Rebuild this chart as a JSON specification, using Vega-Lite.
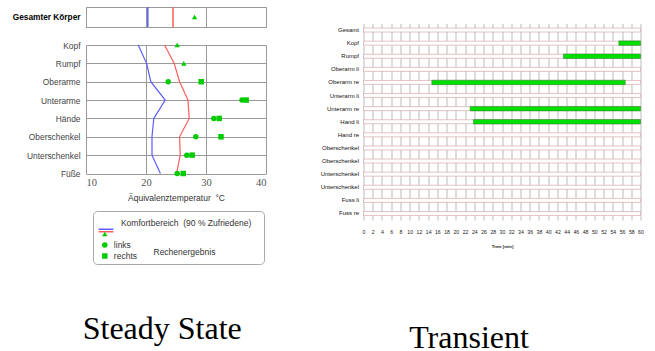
{
  "$schema": "https://vega.github.io/schema/vega-lite/v6.json",
  "padding": {"left": 11, "top": 5, "right": 0, "bottom": 0},
  "background": "white",
  "datasets": {
    "komfort_unten": [
      {"teil": "Kopf", "linie": "Untergrenze", "temp": 18.7},
      {"teil": "Rumpf", "linie": "Untergrenze", "temp": 20.1},
      {"teil": "Oberarme", "linie": "Untergrenze", "temp": 20.8},
      {"teil": "Unterarme", "linie": "Untergrenze", "temp": 23.2},
      {"teil": "Hände", "linie": "Untergrenze", "temp": 21.3},
      {"teil": "Oberschenkel", "linie": "Untergrenze", "temp": 21.0},
      {"teil": "Unterschenkel", "linie": "Untergrenze", "temp": 21.0},
      {"teil": "Füße", "linie": "Untergrenze", "temp": 22.4}
    ],
    "komfort_oben": [
      {"teil": "Kopf", "kurve": "Obergrenze", "temp": 23.1},
      {"teil": "Rumpf", "kurve": "Obergrenze", "temp": 24.7},
      {"teil": "Oberarme", "kurve": "Obergrenze", "temp": 25.6},
      {"teil": "Unterarme", "kurve": "Obergrenze", "temp": 27.0},
      {"teil": "Hände", "kurve": "Obergrenze", "temp": 27.2},
      {"teil": "Oberschenkel", "kurve": "Obergrenze", "temp": 25.6},
      {"teil": "Unterschenkel", "kurve": "Obergrenze", "temp": 25.7},
      {"teil": "Füße", "kurve": "Obergrenze", "temp": 25.1}
    ],
    "ergebnis": [
      {"teil": "Kopf", "seite": "gesamt", "quelle": "Rechenergebnis", "temp": 25.2},
      {"teil": "Rumpf", "seite": "gesamt", "quelle": "Rechenergebnis", "temp": 26.3},
      {"teil": "Oberarme", "seite": "links", "quelle": "Rechenergebnis", "temp": 23.7},
      {"teil": "Oberarme", "seite": "rechts", "quelle": "Rechenergebnis", "temp": 29.2},
      {"teil": "Unterarme", "seite": "links", "quelle": "Rechenergebnis", "temp": 36.0},
      {"teil": "Unterarme", "seite": "rechts", "quelle": "Rechenergebnis", "temp": 36.7},
      {"teil": "Hände", "seite": "links", "quelle": "Rechenergebnis", "temp": 31.3},
      {"teil": "Hände", "seite": "rechts", "quelle": "Rechenergebnis", "temp": 32.2},
      {"teil": "Oberschenkel", "seite": "links", "quelle": "Rechenergebnis", "temp": 28.3},
      {"teil": "Oberschenkel", "seite": "rechts", "quelle": "Rechenergebnis", "temp": 32.5},
      {"teil": "Unterschenkel", "seite": "links", "quelle": "Rechenergebnis", "temp": 26.8},
      {"teil": "Unterschenkel", "seite": "rechts", "quelle": "Rechenergebnis", "temp": 27.7},
      {"teil": "Füße", "seite": "links", "quelle": "Rechenergebnis", "temp": 25.2},
      {"teil": "Füße", "seite": "rechts", "quelle": "Rechenergebnis", "temp": 26.2}
    ],
    "gesamt_komfort": [
      {"grenze": "unten", "temp": 20.3},
      {"grenze": "oben", "temp": 24.5}
    ],
    "gesamt_ergebnis": [
      {"teil": "Gesamter Körper", "temp": 28.1}
    ],
    "zeilen": [
      {"row": "Gesamt", "von": 0, "bis": 60},
      {"row": "Kopf", "von": 0, "bis": 60},
      {"row": "Rumpf", "von": 0, "bis": 60},
      {"row": "Oberarm li", "von": 0, "bis": 60},
      {"row": "Oberarm re", "von": 0, "bis": 60},
      {"row": "Unterarm li", "von": 0, "bis": 60},
      {"row": "Unterarm re", "von": 0, "bis": 60},
      {"row": "Hand li", "von": 0, "bis": 60},
      {"row": "Hand re", "von": 0, "bis": 60},
      {"row": "Oberschenkel li", "von": 0, "bis": 60},
      {"row": "Oberschenkel re", "von": 0, "bis": 60},
      {"row": "Unterschenkel li", "von": 0, "bis": 60},
      {"row": "Unterschenkel re", "von": 0, "bis": 60},
      {"row": "Fuss li", "von": 0, "bis": 60},
      {"row": "Fuss re", "von": 0, "bis": 60}
    ],
    "aktiv": [
      {"row": "Kopf", "von": 55.3, "bis": 60},
      {"row": "Rumpf", "von": 43.3, "bis": 60},
      {"row": "Oberarm re", "von": 14.8, "bis": 56.7},
      {"row": "Unterarm re", "von": 23.1, "bis": 60},
      {"row": "Hand li", "von": 23.8, "bis": 60}
    ],
    "leer": []
  },
  "hconcat": [
    {
      "title": {"text": "Steady State", "orient": "bottom", "anchor": "start", "dx": 71, "offset": 112, "font": "Liberation Serif", "fontSize": 32, "fontWeight": "normal", "color": "#000000"},
      "spacing": 12,
      "vconcat": [
        {
          "width": 180,
          "height": 20,
          "view": {"stroke": "#999999", "strokeWidth": 1},
          "data": {"name": "gesamt_komfort"},
          "layer": [
            {
              "transform": [{"filter": "datum.grenze === 'unten'"}],
              "mark": {"type": "rule", "strokeWidth": 1.5, "color": "#5c5cff"},
              "encoding": {
                "x": {"field": "temp", "type": "quantitative", "scale": {"domain": [10, 40], "nice": false},
                      "axis": {"grid": true, "gridColor": "#999999", "values": [10, 15, 20, 25, 30, 35, 40], "labels": false, "ticks": false, "domain": false, "title": null}}
              }
            },
            {
              "transform": [{"filter": "datum.grenze === 'oben'"}],
              "mark": {"type": "rule", "strokeWidth": 1.5, "color": "#ff5c5c"},
              "encoding": {
                "x": {"field": "temp", "type": "quantitative"}
              }
            },
            {
              "data": {"name": "gesamt_ergebnis"},
              "mark": {"type": "point", "filled": true, "shape": "triangle-up", "size": 30, "color": "#00cc00", "opacity": 1},
              "encoding": {
                "x": {"field": "temp", "type": "quantitative"},
                "y": {"field": "teil", "type": "nominal",
                      "axis": {"title": null, "ticks": false, "domain": false, "grid": false, "labelFontWeight": "bold", "labelFontSize": 8.3, "labelColor": "#000000", "labelPadding": 6}}
              }
            }
          ]
        },
        {
          "width": 180,
          "height": 128.5,
          "layer": [
            {
              "data": {"name": "komfort_unten"},
              "mark": {"type": "line", "strokeWidth": 1.2},
              "encoding": {
                "x": {"field": "temp", "type": "quantitative", "scale": {"domain": [10, 40], "nice": false},
                      "axis": {"grid": true, "gridColor": "#999999", "values": [10, 15, 20, 25, 30, 35, 40], "ticks": false, "domain": false, "labelOverlap": false,
                               "labelFont": "Liberation Serif", "labelFontSize": 10.5, "labelColor": "#555555", "labelPadding": 3.5,
                               "title": "Äquivalenztemperatur\u00a0 °C", "titleFontWeight": "normal", "titleFontSize": 8.5, "titleColor": "#333333", "titlePadding": 5.5}},
                "y": {"field": "teil", "type": "nominal", "sort": ["Kopf", "Rumpf", "Oberarme", "Unterarme", "Hände", "Oberschenkel", "Unterschenkel", "Füße"],
                      "scale": {"type": "point", "padding": 0},
                      "axis": {"title": null, "ticks": false, "domain": false, "grid": true, "gridColor": "#999999", "labelFontSize": 8.4, "labelColor": "#444444", "labelPadding": 6}},
                "stroke": {"field": "linie", "type": "nominal", "scale": {"domain": ["Untergrenze"], "range": ["#5c5cff"]},
                           "legend": {"orient": "none", "legendX": 15, "legendY": 218.5, "title": null, "labelExpr": "''",
                                      "symbolType": "M-2.7,-0.45H2.7", "symbolSize": 30, "symbolStrokeWidth": 1.5, "padding": 0, "symbolOffset": 0}},
                "order": {"value": null}
              }
            },
            {
              "data": {"name": "komfort_oben"},
              "mark": {"type": "line", "strokeWidth": 1.2},
              "encoding": {
                "x": {"field": "temp", "type": "quantitative"},
                "y": {"field": "teil", "type": "nominal", "sort": ["Kopf", "Rumpf", "Oberarme", "Unterarme", "Hände", "Oberschenkel", "Unterschenkel", "Füße"]},
                "color": {"field": "kurve", "type": "nominal", "scale": {"domain": ["Obergrenze"], "range": ["#ff5c5c"]},
                          "legend": {"orient": "none", "legendX": 15, "legendY": 218.5, "title": null, "labelExpr": "''",
                                     "symbolType": "M-2.7,0.45H2.7", "symbolSize": 30, "symbolStrokeWidth": 1.5, "padding": 0, "symbolOffset": 0}},
                "order": {"value": null}
              }
            },
            {
              "data": {"name": "ergebnis"},
              "mark": {"type": "point", "filled": true, "size": 30, "color": "#00cc00", "opacity": 1},
              "encoding": {
                "x": {"field": "temp", "type": "quantitative"},
                "y": {"field": "teil", "type": "nominal", "sort": ["Kopf", "Rumpf", "Oberarme", "Unterarme", "Hände", "Oberschenkel", "Unterschenkel", "Füße"]},
                "shape": {"field": "seite", "type": "nominal",
                          "scale": {"domain": ["komfort", "gesamt", "links", "rechts"], "range": ["M0,0", "triangle-up", "circle", "square"]},
                          "legend": {
                            "orient": "none", "legendX": 7, "legendY": 204,
                            "title": " ", "titleFontSize": 1, "titlePadding": 4,
                            "values": ["komfort", "gesamt", "links", "rechts"],
                            "labelExpr": "datum.value === 'komfort' ? '\u2060\u00a0\u00a0\u00a0Komfortbereich\u00a0\u00a0(90\u00a0% Zufriedene)\u00a0\u00a0\u00a0\u00a0\u2060' : (datum.value === 'gesamt' ? '' : datum.label)",
                            "labelFontSize": 8.5, "labelColor": "#333333",
                            "padding": 2.75, "strokeColor": "#aaaaaa", "cornerRadius": 4,
                            "symbolSize": 30, "symbolOffset": 4.8, "labelOffset": 4.8, "rowPadding": 2, "symbolStrokeWidth": 0
                          }},
                "opacity": {"field": "quelle", "type": "ordinal", "scale": {"range": [1, 1]},
                            "legend": {"orient": "none", "legendX": 59, "legendY": 241, "title": null, "padding": 0, "symbolSize": 0, "symbolStrokeWidth": 0, "symbolOpacity": 0, "labelOffset": 0,
                                       "labelFontSize": 8.5, "labelColor": "#333333"}}
              }
            }
          ]
        }
      ]
    },
    {
      "title": {"text": "Transient", "orient": "bottom", "anchor": "start", "dx": 89, "offset": 74, "font": "Liberation Serif", "fontSize": 32, "fontWeight": "normal", "color": "#000000"},
      "spacing": 15.5,
      "vconcat": [
        {
          "width": 277,
          "height": 1,
          "data": {"name": "leer"},
          "mark": {"type": "point"},
          "encoding": {}
        },
        {
          "width": 277,
          "height": 196.5,
          "encoding": {
            "x": {"field": "von", "type": "quantitative", "scale": {"domain": [0, 60], "nice": false},
                  "axis": {"grid": true, "gridColor": "#aaaaaa", "gridWidth": 0.8,
                           "values": [0, 2, 4, 6, 8, 10, 12, 14, 16, 18, 20, 22, 24, 26, 28, 30, 32, 34, 36, 38, 40, 42, 44, 46, 48, 50, 52, 54, 56, 58, 60],
                           "ticks": false, "domain": false, "labelFontSize": 5.2, "labelColor": "#222222", "labelPadding": 9.5, "labelFlush": false, "labelOverlap": false,
                           "title": "Time [min]", "titleFontSize": 4.3, "titleFontWeight": "bold", "titleColor": "#222222", "titlePadding": 9.5}},
            "x2": {"field": "bis"},
            "y": {"field": "row", "type": "nominal",
                  "sort": ["Gesamt", "Kopf", "Rumpf", "Oberarm li", "Oberarm re", "Unterarm li", "Unterarm re", "Hand li", "Hand re", "Oberschenkel li", "Oberschenkel re", "Unterschenkel li", "Unterschenkel re", "Fuss li", "Fuss re"],
                  "scale": {"paddingInner": 0, "paddingOuter": 0},
                  "axis": {"title": null, "ticks": false, "domain": false, "grid": false, "labelFontSize": 6, "labelColor": "#111111", "labelPadding": 5,
                           "labelExpr": "test(/schenkel/, datum.label) ? split(datum.label, ' ')[0] : datum.label"}}
          },
          "layer": [
            {
              "data": {"name": "zeilen"},
              "mark": {"type": "bar", "height": 4, "fill": "#ffffff", "stroke": "#d8a8a8", "strokeWidth": 0.7}
            },
            {
              "data": {"name": "aktiv"},
              "mark": {"type": "bar", "height": 4.5, "fill": "#00e000", "stroke": "#3a7a3a", "strokeWidth": 0.5}
            }
          ]
        }
      ]
    }
  ],
  "spacing": 52.5,
  "config": {
    "view": {"stroke": null},
    "font": "Liberation Sans",
    "axis": {"labelFont": "Liberation Sans", "titleFont": "Liberation Sans"},
    "legend": {"labelFont": "Liberation Sans", "titleFont": "Liberation Sans"}
  }
}
